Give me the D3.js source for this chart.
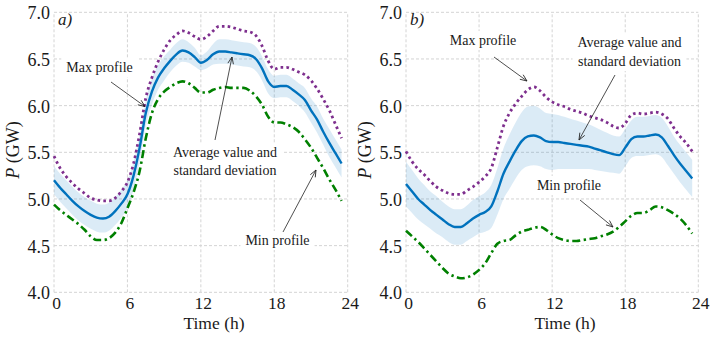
<!DOCTYPE html>
<html><head><meta charset="utf-8">
<script src="https://cdn.jsdelivr.net/npm/d3@7"></script>
<style>body{margin:0;background:#fff}svg{display:block}
svg text{font-family:"Liberation Serif","DejaVu Serif","Times New Roman",serif !important}</style>
</head><body>
<svg id="c" width="710" height="340"></svg>
<script>
const hours = [0,0.5,1,1.5,2,2.5,3,3.5,4,4.5,5,5.5,6,6.5,7,7.5,8,8.5,9,9.5,10,10.5,11,11.5,12,12.5,13,13.5,14,14.5,15,15.5,16,16.5,17,17.5,18,18.5,19,19.5,20,20.5,21,21.5,22,22.5,23,23.5];
const xTicks = [0,6,12,18,24];
const yTicks = [4.0,4.5,5.0,5.5,6.0,6.5,7.0];

// panel a)
const aMean = [5.20,5.12,5.05,4.98,4.92,4.87,4.83,4.80,4.79,4.81,4.87,4.95,5.05,5.25,5.55,5.92,6.15,6.30,6.40,6.48,6.55,6.59,6.57,6.52,6.46,6.49,6.55,6.58,6.58,6.57,6.56,6.55,6.54,6.50,6.40,6.26,6.20,6.21,6.21,6.17,6.12,6.06,5.95,5.85,5.72,5.60,5.49,5.38];
const aStd  = [0.15,0.15,0.15,0.15,0.15,0.15,0.15,0.15,0.15,0.15,0.15,0.15,0.15,0.15,0.15,0.14,0.14,0.13,0.13,0.12,0.12,0.12,0.11,0.10,0.08,0.09,0.11,0.13,0.13,0.13,0.13,0.13,0.13,0.13,0.13,0.13,0.12,0.12,0.12,0.12,0.12,0.13,0.13,0.14,0.14,0.15,0.15,0.15];
const aMax  = [5.46,5.33,5.24,5.17,5.11,5.06,5.01,4.99,4.98,4.98,5.01,5.08,5.18,5.38,5.70,6.08,6.30,6.47,6.60,6.70,6.76,6.80,6.78,6.74,6.71,6.74,6.80,6.85,6.85,6.84,6.82,6.80,6.79,6.75,6.64,6.48,6.39,6.41,6.41,6.39,6.36,6.33,6.27,6.18,6.07,5.95,5.80,5.65];
const aMin  = [4.94,4.88,4.83,4.78,4.73,4.67,4.60,4.56,4.56,4.58,4.64,4.74,4.90,5.07,5.30,5.65,5.92,6.07,6.15,6.20,6.24,6.26,6.24,6.19,6.14,6.14,6.17,6.19,6.20,6.19,6.19,6.19,6.16,6.10,6.01,5.88,5.82,5.82,5.80,5.77,5.72,5.64,5.55,5.44,5.33,5.21,5.10,4.98];

// panel b)
const bMean = [5.16,5.08,5.00,4.94,4.88,4.83,4.78,4.73,4.70,4.70,4.74,4.79,4.83,4.86,4.92,5.08,5.27,5.40,5.52,5.62,5.67,5.68,5.66,5.62,5.61,5.61,5.60,5.59,5.58,5.57,5.56,5.54,5.52,5.50,5.48,5.47,5.55,5.64,5.67,5.67,5.68,5.69,5.66,5.57,5.47,5.38,5.30,5.22];
const bStd  = [0.24,0.23,0.22,0.21,0.20,0.20,0.19,0.19,0.19,0.19,0.19,0.20,0.20,0.21,0.23,0.25,0.27,0.29,0.30,0.31,0.32,0.32,0.31,0.30,0.30,0.29,0.28,0.27,0.26,0.25,0.24,0.23,0.22,0.21,0.20,0.20,0.20,0.20,0.21,0.21,0.21,0.21,0.21,0.21,0.20,0.20,0.20,0.20];
const bMax  = [5.51,5.40,5.32,5.26,5.19,5.13,5.09,5.06,5.05,5.05,5.09,5.13,5.18,5.24,5.33,5.55,5.78,5.92,6.02,6.10,6.17,6.20,6.16,6.09,6.04,6.01,5.99,5.96,5.94,5.92,5.89,5.87,5.85,5.82,5.78,5.76,5.81,5.90,5.92,5.91,5.92,5.93,5.91,5.86,5.76,5.67,5.60,5.51];
const bMin  = [4.66,4.60,4.54,4.47,4.40,4.33,4.26,4.20,4.17,4.15,4.16,4.19,4.24,4.31,4.42,4.52,4.55,4.56,4.61,4.65,4.67,4.69,4.70,4.67,4.62,4.58,4.56,4.55,4.55,4.56,4.57,4.58,4.60,4.62,4.65,4.70,4.76,4.82,4.85,4.85,4.88,4.92,4.91,4.88,4.84,4.79,4.72,4.63];

const panelLabels = ["a)","b)"];
const xTitle = "Time (h)";
const yTitleItalic = "P";
const yTitleRest = " (GW)";
const annMax = "Max profile";
const annAvg = ["Average value and","standard deviation"];
const annMin = "Min profile";

const svg = d3.select("#c");
const FONT = "Liberation Serif, DejaVu Serif, serif";
const C_BLUE = "#0072BD", C_PURPLE = "#7E2F8E", C_GREEN = "#008000";

const defs = svg.append("defs");
defs.append("marker").attr("id","arr").attr("viewBox","0 0 10 10").attr("refX",9.5).attr("refY",5)
  .attr("markerWidth",8).attr("markerHeight",8).attr("orient","auto").attr("markerUnits","userSpaceOnUse")
  .append("path").attr("d","M1,1.5 L9.5,5 L1,8.5").attr("fill","none").attr("stroke","#222").attr("stroke-width",1);

function panel(opt){
  const x = d3.scaleLinear().domain([0,24]).range([opt.x0,opt.x1]);
  const y = d3.scaleLinear().domain([4,7]).range([292.3,12.3]);
  const g = svg.append("g");
  g.selectAll(".gx").data(xTicks).join("line")
    .attr("x1",d=>x(d)).attr("x2",d=>x(d)).attr("y1",y(4)).attr("y2",y(7))
    .attr("stroke","#d4d4d4").attr("stroke-width",1).attr("stroke-dasharray","3,2");
  g.selectAll(".gy").data(yTicks).join("line")
    .attr("x1",x(0)).attr("x2",x(24)).attr("y1",d=>y(d)).attr("y2",d=>y(d))
    .attr("stroke","#d4d4d4").attr("stroke-width",1).attr("stroke-dasharray","3,2");
  const ax = g.append("g").attr("transform",`translate(0,${y(4)})`)
    .call(d3.axisBottom(x).tickValues(xTicks).tickSize(0).tickPadding(4).tickFormat(d3.format("d")));
  ax.select(".domain").remove();
  ax.attr("font-family",FONT);
  ax.selectAll("text").attr("font-family",FONT).attr("font-size",17.5).attr("fill","#1a1a1a").attr("dx",2);
  const ay = g.append("g").attr("transform",`translate(${x(0)},0)`)
    .call(d3.axisLeft(y).tickValues(yTicks).tickSize(0).tickPadding(4).tickFormat(d3.format(".1f")));
  ay.select(".domain").remove();
  ay.attr("font-family",FONT);
  ay.selectAll("text").attr("font-family",FONT).attr("font-size",18).attr("fill","#1a1a1a").attr("dy","0.36em");

  const rows = hours.map((h,i)=>({h,m:opt.mean[i],s:opt.std[i],mx:opt.max[i],mn:opt.min[i]}));
  g.append("path").datum(rows)
    .attr("d",d3.area().x(d=>x(d.h)).y0(d=>y(d.m-d.s)).y1(d=>y(d.m+d.s)).curve(d3.curveMonotoneX))
    .attr("fill",C_BLUE).attr("fill-opacity",0.14);
  const line = f => d3.line().x(d=>x(d.h)).y(d=>y(f(d))).curve(d3.curveMonotoneX);
  g.append("path").datum(rows).attr("d",line(d=>d.mx)).attr("fill","none")
    .attr("stroke",C_PURPLE).attr("stroke-width",2.8).attr("stroke-dasharray","2.6,3.2");
  g.append("path").datum(rows).attr("d",line(d=>d.mn)).attr("fill","none")
    .attr("stroke",C_GREEN).attr("stroke-width",2.6).attr("stroke-dasharray","8,3.5,2.4,3.5");
  g.append("path").datum(rows).attr("d",line(d=>d.m)).attr("fill","none")
    .attr("stroke",C_BLUE).attr("stroke-width",2.4);

  g.append("text").attr("x",x(0)+4).attr("y",25).attr("font-family",FONT).attr("font-style","italic")
    .attr("font-size",17).attr("fill","#1a1a1a").text(opt.label);
  g.append("text").attr("x",opt.xt).attr("y",329).attr("text-anchor","middle")
    .attr("font-family",FONT).attr("font-size",17.5).attr("fill","#1a1a1a").text(xTitle);
  const yt = g.append("text").attr("transform",`translate(${opt.yx},150) rotate(-90)`).attr("text-anchor","middle")
    .attr("font-family",FONT).attr("font-size",18).attr("fill","#1a1a1a");
  yt.append("tspan").attr("font-style","italic").text(yTitleItalic);
  yt.append("tspan").text(yTitleRest);

  const ann = svg.append("g");
  function label(lines, cx, by, lh){
    const t = ann.append("text").attr("font-family",FONT).attr("font-size",14).attr("fill","#1a1a1a").attr("text-anchor","middle");
    lines.forEach((s,i)=>t.append("tspan").attr("x",cx).attr("y",by+i*lh).text(s));
    const b = t.node().getBBox();
    ann.insert("rect","text").attr("x",b.x-5).attr("y",b.y-2).attr("width",b.width+10).attr("height",b.height+4).attr("fill","#fff");
  }
  function arrow(x1,y1,x2,y2){
    ann.append("line").attr("x1",x1).attr("y1",y1).attr("x2",x2).attr("y2",y2)
      .attr("stroke","#222").attr("stroke-width",0.8).attr("marker-end","url(#arr)");
  }
  opt.ann(label, arrow);
}

panel({x0:54,x1:347.7,mean:aMean,std:aStd,max:aMax,min:aMin,label:panelLabels[0],xt:214,yx:19,
  ann:(label,arrow)=>{
    label([annMax],99.5,72,18);
    arrow(111,82,145,106.5);
    label(annAvg,225,157,18);
    arrow(215,140,232,57);
    label([annMin],277.5,245,18);
    arrow(283,232,316,170);
  }});
panel({x0:406,x1:698.3,mean:bMean,std:bStd,max:bMax,min:bMin,label:panelLabels[1],xt:565,yx:371,
  ann:(label,arrow)=>{
    label([annMax],483,45,18);
    arrow(494,57,527,81);
    label(annAvg,629.5,47,19);
    arrow(615,75,579,140);
    label([annMin],569,190,18);
    arrow(580,200,613,227);
  }});
</script>
</body></html>
